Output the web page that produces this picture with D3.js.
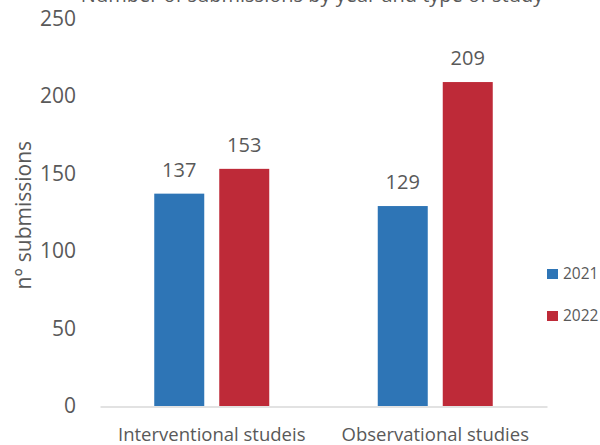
<!DOCTYPE html>
<html>
<head>
<meta charset="utf-8">
<script src="https://cdn.jsdelivr.net/npm/d3@7"></script>
<style>
  html, body { margin: 0; padding: 0; background: #fff; }
  svg { display: block; font-family: "Open Sans", sans-serif; }
</style>
</head>
<body>
<svg id="chart" width="600" height="445"></svg>
<script>
const title = "Number of submissions by year and type of study";
const categories = ["Interventional studeis", "Observational studies"];
const seriesNames = ["2021", "2022"];
const values2021 = [137, 129];
const values2022 = [153, 209];
const yTicks = [0, 50, 100, 150, 200, 250];
const yTitle = "n° submissions";
const colors = ["#2E75B6", "#BE2A38"];

const series = [values2021, values2022];
const svg = d3.select("#chart");
const textColor = "#595959";

const margin = { left: 100, right: 53, top: 18.5, bottom: 38 };
const W = 600, H = 445;

const x0 = d3.scaleBand().domain(categories).range([margin.left, W - margin.right]).paddingInner(0).paddingOuter(0);
const y = d3.scaleLinear().domain([0, 250]).range([H - margin.bottom - 1, margin.top]);

const barW = 50, gap = 15;

// title (cropped at top as in reference)
svg.append("text").attr("x", 312).attr("y", 2).attr("text-anchor", "middle")
  .attr("font-size", 20).attr("fill", textColor).text(title);

// y axis ticks (labels only)
const yAxis = d3.axisLeft(y).tickValues(yTicks).tickSize(0).tickPadding(0);
const gy = svg.append("g").attr("transform", `translate(${margin.left - 24},0)`).call(yAxis);
gy.select(".domain").remove();
gy.selectAll("text").attr("font-size", 21).attr("fill", textColor).attr("font-family", "Open Sans");

// y title
svg.append("text")
  .attr("transform", `translate(31,${(y(0) + y(250)) / 2 + 3}) rotate(-90)`)
  .attr("text-anchor", "middle").attr("font-size", 21).attr("fill", textColor).text(yTitle);

// bars
const groups = svg.append("g").selectAll("g").data(categories).join("g")
  .attr("transform", d => `translate(${x0(d) + x0.bandwidth() / 2 - (barW * 2 + gap) / 2},0)`);

groups.each(function (cat, ci) {
  const g = d3.select(this);
  seriesNames.forEach((s, si) => {
    const v = series[si][ci];
    const bx = si * (barW + gap);
    g.append("rect").attr("x", bx).attr("width", barW)
      .attr("y", y(v)).attr("height", y(0) - y(v)).attr("fill", colors[si]);
    g.append("text").attr("x", bx + barW / 2).attr("y", y(v) - 17)
      .attr("text-anchor", "middle").attr("font-size", 20).attr("fill", textColor).text(v);
  });
});

// x axis
const xAxis = d3.axisBottom(x0).tickSize(0).tickPadding(0);
const gx = svg.append("g").attr("transform", `translate(0,${y(0) + 0.5})`).call(xAxis);
gx.select(".domain").attr("stroke", "#D9D9D9").attr("stroke-width", 1.3);
gx.selectAll("text").attr("font-size", 18.5).attr("fill", textColor).attr("font-family", "Open Sans")
  .attr("dy", 0).attr("y", 34);

// legend
const legend = svg.append("g").selectAll("g").data(seriesNames).join("g")
  .attr("transform", (d, i) => `translate(547,${269 + i * 42})`);
legend.append("rect").attr("width", 11).attr("height", 10).attr("fill", (d, i) => colors[i]);
legend.append("text").attr("x", 16).attr("y", 10).attr("font-size", 15.5).attr("fill", textColor).text(d => d);
</script>
</body>
</html>
